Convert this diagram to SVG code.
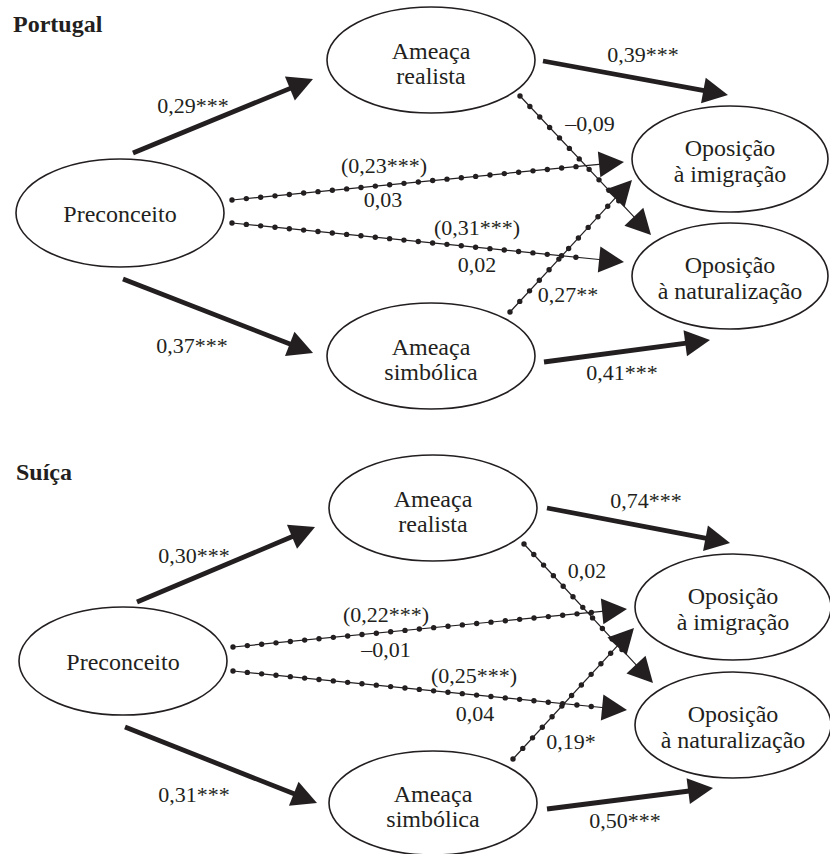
<svg xmlns="http://www.w3.org/2000/svg" width="830" height="854" viewBox="0 0 830 854">
<style>
.bg{fill:#ffffff}
.node ellipse{fill:#ffffff;stroke:#231f20;stroke-width:1.6}
.node text{font-family:"Liberation Serif","DejaVu Serif",serif;font-size:24px;fill:#231f20;text-anchor:middle}
.title{font-family:"Liberation Serif","DejaVu Serif",serif;font-size:24px;font-weight:bold;fill:#231f20}
.lbl{font-family:"Liberation Serif","DejaVu Serif",serif;font-size:22px;fill:#231f20;text-anchor:middle}
.thick{fill:none;stroke:#231f20;stroke-width:4.8;marker-end:url(#ah)}
.thin{fill:none;stroke:#231f20;stroke-width:1.2;marker-end:url(#ah)}
.dots{fill:none;stroke:#231f20;stroke-width:5.4;stroke-linecap:round;stroke-dasharray:0 14.4}
</style>
<defs>
<marker id="ah" markerUnits="userSpaceOnUse" markerWidth="26" markerHeight="26" refX="5" refY="13" orient="auto" overflow="visible">
<path d="M0,0 L25,13 L0,26 Z" fill="#231f20"/>
</marker>
</defs>
<rect class="bg" x="0" y="0" width="830" height="854"/>

<text class="title" x="13" y="32">Portugal</text>
<text class="title" x="16" y="480">Suíça</text>

<g id="p1-preconceito" class="node"><ellipse cx="120" cy="213" rx="104" ry="54"/><text x="120" y="222">Preconceito</text></g>
<g id="p1-realista" class="node"><ellipse cx="431" cy="60" rx="104" ry="53"/><text x="431" y="59">Ameaça</text><text x="431" y="84">realista</text></g>
<g id="p1-imigracao" class="node"><ellipse cx="730" cy="159" rx="98" ry="53"/><text x="730" y="156">Oposição</text><text x="730" y="182">à imigração</text></g>
<g id="p1-naturalizacao" class="node"><ellipse cx="730" cy="276" rx="98" ry="53"/><text x="730" y="273">Oposição</text><text x="730" y="299">à naturalização</text></g>
<g id="p1-simbolica" class="node"><ellipse cx="431" cy="356" rx="104" ry="53"/><text x="431" y="355">Ameaça</text><text x="431" y="380">simbólica</text></g>

<g id="p2-preconceito" class="node"><ellipse cx="123" cy="661" rx="104" ry="54"/><text x="123" y="670">Preconceito</text></g>
<g id="p2-realista" class="node"><ellipse cx="433" cy="508" rx="104" ry="53"/><text x="433" y="507">Ameaça</text><text x="433" y="532">realista</text></g>
<g id="p2-imigracao" class="node"><ellipse cx="733" cy="607" rx="98" ry="53"/><text x="733" y="604">Oposição</text><text x="733" y="630">à imigração</text></g>
<g id="p2-naturalizacao" class="node"><ellipse cx="733" cy="725" rx="98" ry="53"/><text x="733" y="722">Oposição</text><text x="733" y="748">à naturalização</text></g>
<g id="p2-simbolica" class="node"><ellipse cx="433" cy="803" rx="104" ry="52"/><text x="433" y="802">Ameaça</text><text x="433" y="827">simbólica</text></g>

<g id="connectors">
<path class="thick" d="M133,153 L294.5,86.6"/>
<path class="thick" d="M123,279 L294.4,345.7"/>
<path class="thick" d="M543,61 L708.3,91.4"/>
<path class="thick" d="M544,362 L690.2,342.6"/>
<path class="thin" d="M232,200 L604.1,163.9"/><path class="dots" d="M232,200 L590,165.3"/>
<path class="thin" d="M232,223 L604.1,260"/><path class="dots" d="M232,223 L590,258.6"/>
<path class="thin" d="M520,96 L637.3,220.4"/><path class="dots" d="M520,96 L628,210.6"/>
<path class="thin" d="M510,312 L618.4,194.7"/><path class="dots" d="M510,312 L610,203.8"/>

<path class="thick" d="M137,602 L296.6,534.8"/>
<path class="thick" d="M125,727 L298.4,795.6"/>
<path class="thick" d="M547,508 L710.4,539.2"/>
<path class="thick" d="M547,809 L693.2,790.5"/>
<path class="thin" d="M233,647 L607.1,610.9"/><path class="dots" d="M233,647 L593,612.3"/>
<path class="thin" d="M233,671 L607.1,708"/><path class="dots" d="M233,671 L593,706.6"/>
<path class="thin" d="M524,544 L639.4,668.3"/><path class="dots" d="M524,544 L630,658.2"/>
<path class="thin" d="M513,759 L620.4,642.7"/><path class="dots" d="M513,759 L612,651.8"/>
</g>

<g id="labels">
<text class="lbl" x="193" y="113">0,29***</text>
<text class="lbl" x="192" y="353">0,37***</text>
<text class="lbl" x="643" y="62">0,39***</text>
<text class="lbl" x="622" y="380">0,41***</text>
<text class="lbl" x="590" y="131">–0,09</text>
<text class="lbl" x="384" y="173">(0,23***)</text>
<text class="lbl" x="383" y="207">0,03</text>
<text class="lbl" x="477" y="235">(0,31***)</text>
<text class="lbl" x="477" y="272">0,02</text>
<text class="lbl" x="568" y="302">0,27**</text>

<text class="lbl" x="194" y="563">0,30***</text>
<text class="lbl" x="194" y="802">0,31***</text>
<text class="lbl" x="646" y="508">0,74***</text>
<text class="lbl" x="625" y="828">0,50***</text>
<text class="lbl" x="587" y="578">0,02</text>
<text class="lbl" x="386" y="622">(0,22***)</text>
<text class="lbl" x="386" y="657">–0,01</text>
<text class="lbl" x="474" y="683">(0,25***)</text>
<text class="lbl" x="475" y="721">0,04</text>
<text class="lbl" x="571" y="749">0,19*</text>
</g>
</svg>
